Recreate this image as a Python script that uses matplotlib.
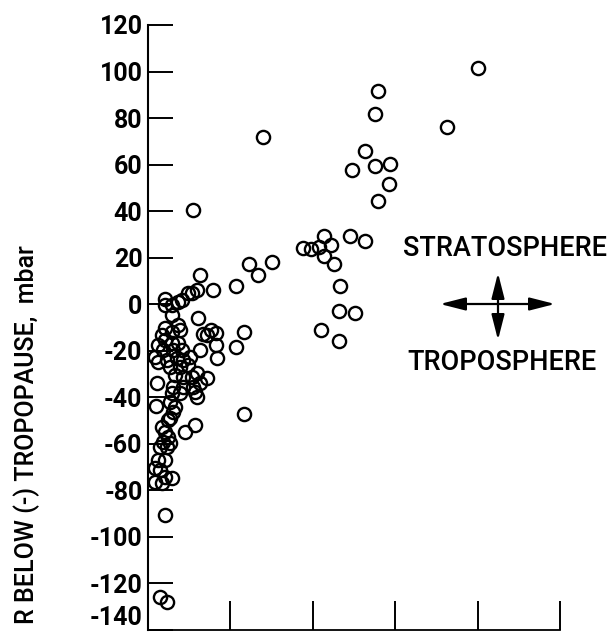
import numpy as np
import matplotlib
matplotlib.use("Agg")
import matplotlib.pyplot as plt

# pontos (x em unidades de divisao, y em mbar)
x_vals = [0.63, 0.79, 1.07, 0.60, 0.54, 0.48, 0.41, 0.37, 0.29, 0.21, 0.21, 0.29,
          0.61, 0.21, 0.17, 0.37, 0.39, 0.29, 0.76, 0.82, 0.72, 1.16, 0.67,
          0.12, 0.21, 0.29, 0.37, 0.18, 0.30, 0.41, 0.63, 0.82, 0.84, 1.07,
          0.09, 0.12, 0.23, 0.35, 0.43, 0.51, 0.49, 0.39, 0.27,
          0.11, 0.33, 0.43, 0.54, 0.60, 0.72, 0.63, 0.55, 0.57, 0.60, 0.43, 0.30,
          0.29, 0.39, 0.27, 0.33, 0.10,
          0.30, 0.27, 0.24, 0.17, 0.21, 0.24, 0.18, 0.27, 0.15, 0.23, 0.45, 0.57,
          0.12, 0.21, 0.09, 0.15, 0.21, 0.29, 0.09, 0.17, 0.21, 0.15, 0.23,
          1.23, 1.33, 1.50, 1.17, 0.55, 1.40,
          1.88, 1.98, 2.07, 2.13, 2.22, 2.13, 2.26, 2.33, 2.32, 2.51, 2.10, 2.32,
          2.45, 2.63,
          2.48, 2.63, 2.76, 2.94, 2.93, 2.79, 2.76, 2.79, 3.63, 4.01]
y_vals = [12.6, 6.1, 7.8, 6.1, 4.8, 4.8, 1.8, 1.0, -0.3, 2.3, -0.3, -4.6,
          -5.9, -10.2, -13.2, -8.9, -11.1, -11.9, -11.1, -12.4, -13.2, -11.9, -12.8,
          -17.5, -15.4, -16.6, -16.6, -19.7, -19.7, -19.7, -19.7, -17.5, -23.1, -18.4,
          -22.7, -24.8, -24.0, -23.1, -24.0, -22.7, -26.1, -27.0, -27.0,
          -33.8, -30.4, -31.3, -31.3, -29.5, -31.7, -33.8, -35.6, -37.7, -39.9, -35.6, -35.6,
          -38.1, -38.1, -42.0, -44.1, -43.7,
          -46.3, -48.9, -49.7, -52.7, -54.9, -57.0, -59.2, -59.6, -61.3, -61.3, -54.9, -51.9,
          -66.9, -66.9, -70.4, -71.2, -74.2, -74.7, -76.4, -76.8, -90.6, -125.8, -128.0,
          17.3, 12.6, 18.2, -47.2, 40.5, 71.9,
          24.2, 23.7, 24.6, 29.3, 25.5, 20.7, 17.3, 7.8, -2.9, -3.8, -11.1, -15.8,
          29.3, 27.2,
          57.7, 65.9, 59.4, 60.3, 51.7, 44.4, 81.8, 91.6, 76.2, 101.5]

y_ticks = [-140, -120, -100, -80, -60, -40, -20, 0, 20, 40, 60, 80, 100, 120]
y_tick_labels = ['-140', '-120', '-100', '-80', '-60', '-40', '-20', '0',
                 '20', '40', '60', '80', '100', '120']
x_ticks = [0, 1, 2, 3, 4, 5]

fonte = ['Roboto', 'DejaVu Sans']

fig = plt.figure(figsize=(6.09, 6.35), dpi=100)
ax = fig.add_axes([148/609, 5/635, 412/609, 605/635])

ax.plot(x_vals, y_vals, 'o', mfc='none', mec='black', ms=9.5, mew=1.7, clip_on=False)

ax.set_xlim(0, 5)
ax.set_ylim(-140, 120)
ax.set_yticks(y_ticks)
ax.set_yticklabels(y_tick_labels, fontfamily=fonte, fontweight='bold', fontsize=18)
ax.set_xticks(x_ticks)
ax.set_xticklabels([])

ax.tick_params(axis='y', direction='in', length=18, width=1.4, pad=4)
ax.tick_params(axis='x', direction='in', length=21, width=1.4)
ax.spines['top'].set_visible(False)
ax.spines['right'].set_visible(False)
ax.spines['left'].set_linewidth(1.5)
ax.spines['bottom'].set_linewidth(1.3)

# o -140 fica acima do eixo
ax.get_yticklabels()[0].set_verticalalignment('bottom')

fig.text(27/609, 1 - 245/635, 'R BELOW (-) TROPOPAUSE,  mbar', rotation=90,
         ha='center', va='top', fontsize=18, fontfamily=fonte, fontweight='medium')

fig.text(505/609, 1 - 249/635, 'STRATOSPHERE', ha='center', va='center',
         fontsize=19.5, fontfamily=fonte, fontweight='medium')
fig.text(502/609, 1 - 362/635, 'TROPOSPHERE', ha='center', va='center',
         fontsize=19.5, fontfamily=fonte, fontweight='medium')

# setas
seta = dict(arrowstyle='<|-|>,head_length=1.1,head_width=0.28', color='black',
            lw=1.6, mutation_scale=14, shrinkA=0, shrinkB=0)
ax.annotate('', xy=(555/609, 1 - 304/635), xytext=(440/609, 1 - 304/635),
            xycoords='figure fraction', textcoords='figure fraction', arrowprops=seta)
ax.annotate('', xy=(498/609, 1 - 273/635), xytext=(498/609, 1 - 340/635),
            xycoords='figure fraction', textcoords='figure fraction', arrowprops=seta)

fig.savefig('out.png', dpi=100)
